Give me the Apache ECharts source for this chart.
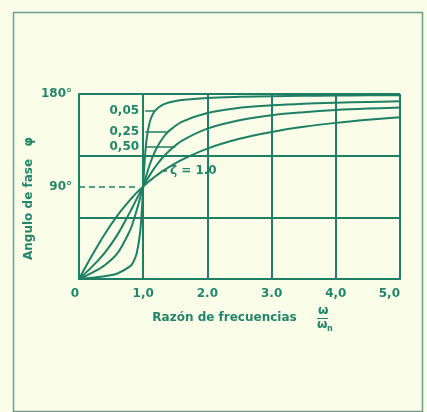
<!DOCTYPE html>
<html>
<head>
<meta charset="utf-8">
<script src="https://cdn.jsdelivr.net/npm/echarts@6/dist/echarts.min.js"></script>
<style>
html,body{margin:0;padding:0;background:#fafde8;}
#c{width:427px;height:412px;}
</style>
</head>
<body>
<div id="c"></div>
<script>
// frequency ratio ω/ωn
const ratio = [0, 0.2, 0.4, 0.6, 0.8, 0.85, 0.9, 0.95, 0.98, 1.0, 1.02, 1.05, 1.1, 1.15, 1.2, 1.3, 1.4, 1.6, 2.0, 2.5, 3.0, 3.5, 4.0, 4.5, 5.0];
// phase angle (degrees) for each damping ratio ζ
const phaseZ005 = [0, 1.2, 2.7, 5.4, 12.5, 17.0, 25.3, 44.3, 68.0, 90, 111.6, 134.3, 152.4, 160.4, 164.7, 169.3, 171.7, 174.1, 176.2, 177.3, 177.9, 178.2, 178.5, 178.7, 178.8];
const phaseZ025 = [0, 6.0, 13.4, 25.1, 48.0, 56.9, 67.1, 78.4, 85.4, 90, 94.5, 101.0, 110.9, 119.3, 126.3, 136.7, 143.9, 152.9, 161.6, 166.6, 169.0, 170.6, 171.6, 172.3, 172.9];
const phaseZ050 = [0, 11.8, 25.5, 43.2, 65.8, 71.9, 78.1, 84.1, 87.7, 90, 92.3, 95.6, 100.8, 105.7, 110.1, 118.0, 124.4, 134.3, 146.3, 154.5, 159.4, 162.3, 164.4, 165.8, 166.8];
const phaseZ100 = [0, 22.6, 43.6, 61.9, 77.3, 80.7, 84.0, 87.1, 88.8, 90, 91.2, 92.8, 95.5, 98.0, 100.4, 104.9, 108.9, 116.0, 126.9, 136.4, 143.1, 148.1, 151.9, 154.9, 157.4];
const zetaLabels = ['0,05', '0,25', '0,50', 'ζ = 1.0'];
const xTickLabels = {0: '0', 1: '1,0', 2: '2.0', 3: '3.0', 4: '4,0', 5: '5,0'};
const yTickLabels = {90: '90°', 180: '180°'};
// leader lines for the curve labels: [r start, r end, φ]
const leaders = [[1.03, 1.18, 163.5], [1.03, 1.39, 143], [1.03, 1.5, 128.5], [1.29, 1.37, 105.5]];

const teal = '#1f7f66';
const txt = '#23866b';
const font = '"DejaVu Sans", Verdana, sans-serif';

function pts(ys){ return ratio.map((r,i)=>[r, ys[i]]); }

const allSeries = [phaseZ005, phaseZ025, phaseZ050, phaseZ100].map((ys, k) => {
  const L = leaders[k];
  const isLast = k === 3;
  return {
    type: 'line',
    data: pts(ys),
    showSymbol: false,
    smooth: 0.35,
    lineStyle: {color: teal, width: 2},
    z: 5,
    markLine: {
      silent: true,
      symbol: 'none',
      animation: false,
      lineStyle: {color: teal, width: 1.5, type: 'solid'},
      label: {
        show: true,
        position: isLast ? 'end' : 'start',
        distance: isLast ? 3 : 6,
        formatter: zetaLabels[k],
        color: txt, fontFamily: font, fontWeight: 'bold', fontSize: 12
      },
      data: [[{coord: [L[0], L[2]]}, {coord: [L[1], L[2]]}]]
    }
  };
});

// 90° reference dashed line
allSeries.push({
  type: 'line', data: [],
  markLine: {
    silent: true, animation: false,
    symbol: ['none', 'arrow'], symbolSize: [0, 6],
    lineStyle: {color: teal, width: 1.5, type: [6, 4]},
    label: {show: false},
    data: [[{coord: [0, 90]}, {coord: [0.92, 90]}]]
  }
});

const chart = echarts.init(document.getElementById('c'));
chart.setOption({
  backgroundColor: '#fafde8',
  animation: false,
  grid: {left: 79, right: 27, top: 94, bottom: 133},
  xAxis: {
    type: 'value', min: 0, max: 5, interval: 1,
    axisLine: {show: true, lineStyle: {color: teal, width: 2}},
    axisTick: {show: false},
    splitLine: {show: true, lineStyle: {color: teal, width: 2}},
    axisLabel: {
      color: txt, fontFamily: font, fontWeight: 'bold', fontSize: 12, margin: 9,
      alignMinLabel: 'right', alignMaxLabel: 'right',
      formatter: v => xTickLabels[v] !== undefined ? xTickLabels[v] : ''
    },
    name: 'Razón de frecuencias',
    nameLocation: 'middle', nameGap: 33,
    nameTextStyle: {color: txt, fontFamily: font, fontWeight: 'bold', fontSize: 12, padding: [0, 30, 0, 0]}
  },
  yAxis: [{
    type: 'value', min: 0, max: 180, interval: 60,
    axisLine: {show: true, lineStyle: {color: teal, width: 2}},
    axisTick: {show: false},
    splitLine: {show: true, lineStyle: {color: teal, width: 2}},
    axisLabel: {show: false},
    name: 'Angulo de fase   φ',
    nameLocation: 'middle', nameGap: 44,
    nameTextStyle: {color: txt, fontFamily: font, fontWeight: 'bold', fontSize: 12, padding: [0, 24, 0, 0]}
  }, {
    type: 'value', min: 0, max: 180, interval: 90, position: 'left',
    axisLine: {show: false}, axisTick: {show: false}, splitLine: {show: false},
    axisLabel: {
      color: txt, fontFamily: font, fontWeight: 'bold', fontSize: 12, margin: 7,
      formatter: v => yTickLabels[v] || ''
    }
  }],
  graphic: [
    {type: 'rect', left: 11, top: 10, shape: {width: 409, height: 399}, style: {fill: 'none', stroke: '#6e9c8c', lineWidth: 1.5}, silent: true},
    {type: 'text', left: 318, top: 305, style: {text: 'ω', fill: txt, font: 'bold 12px ' + font}},
    {type: 'rect', left: 317, top: 318, shape: {width: 11, height: 1}, style: {fill: txt}},
    {type: 'text', left: 317, top: 319, style: {text: 'ω', fill: txt, font: 'bold 12px ' + font}},
    {type: 'text', left: 327, top: 325, style: {text: 'n', fill: txt, font: 'bold 8px ' + font}}
  ],
  series: allSeries
});
</script>
</body>
</html>
